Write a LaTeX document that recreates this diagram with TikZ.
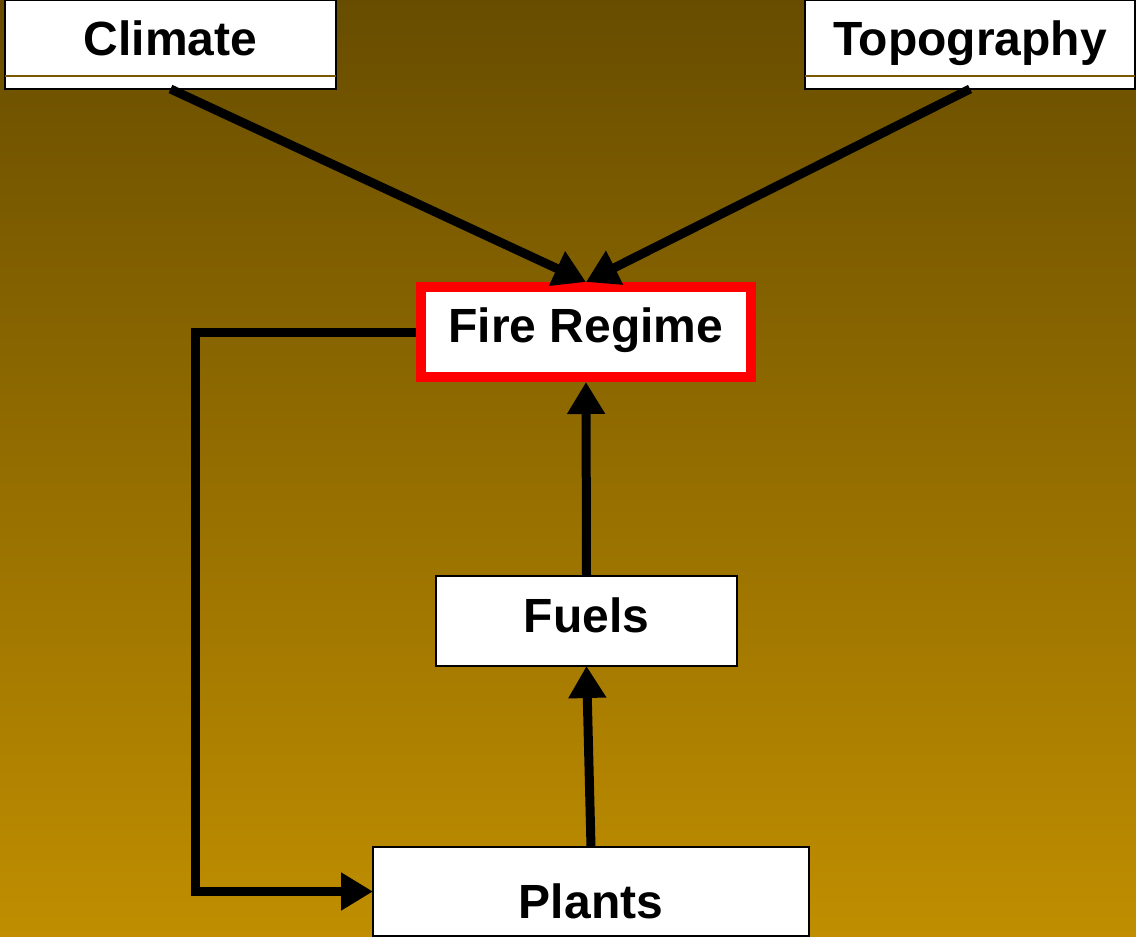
\documentclass[tikz,border=0pt]{standalone}
\usepackage{fontspec}
\setmainfont{Liberation Sans}
\usetikzlibrary{arrows.meta}
\definecolor{bgtop}{RGB}{104,77,0}
\definecolor{bgbot}{RGB}{192,142,0}
\definecolor{olivebar}{RGB}{120,88,0}
\definecolor{firered}{RGB}{255,0,0}
\tikzset{
  box/.style={draw=black, line width=2pt, fill=white, inner sep=0pt, outer sep=0pt,
    font=\fontsize{48}{56}\selectfont\bfseries, text depth=10pt},
  firebox/.style={box, draw=firered, line width=10pt, outer sep=5pt},
  conn/.style={line width=9pt, draw=black, -{Triangle[length=32pt,width=36pt]}},
  bar/.style={draw=olivebar, line width=1.5pt}
}
\begin{document}
\begin{tikzpicture}[x=1pt,y=-1pt]
\useasboundingbox (0,0) rectangle (1136,937);
\shade[top color=bgtop, bottom color=bgbot] (0,0) rectangle (1136,937);
\begin{scope}
\clip (0,0) rectangle (1136,937);
\node[box, minimum width=331pt, minimum height=89pt, text height=31pt] (climate) at (170.5,44.5) {Climate};
\node[box, minimum width=330pt, minimum height=89pt, text height=31pt] (topo) at (970,44.5) {Topography};
\node[firebox, minimum width=330pt, minimum height=90pt, text height=30pt] (fire) at (586,332) {Fire Regime};
\node[box, minimum width=301pt, minimum height=90pt, text height=32pt] (fuels) at (586.5,621) {Fuels};
\node[box, minimum width=436pt, minimum height=89pt, text height=63pt] (plants) at (591,891.5) {Plants};
\draw[bar] ([yshift=13pt]climate.south west) -- ([yshift=13pt]climate.south east);
\draw[bar] ([yshift=13pt]topo.south west) -- ([yshift=13pt]topo.south east);
\draw[conn] (climate.south) -- (fire.north);
\draw[conn] (topo.south) -- (fire.north);
\draw[conn] (fuels.north) -- (fire.south);
\draw[conn] (plants.north) -- (fuels.south);
\draw[conn] (fire.west) -- ++(-221,0) |- (plants.west);
\end{scope}
\end{tikzpicture}
\end{document}
